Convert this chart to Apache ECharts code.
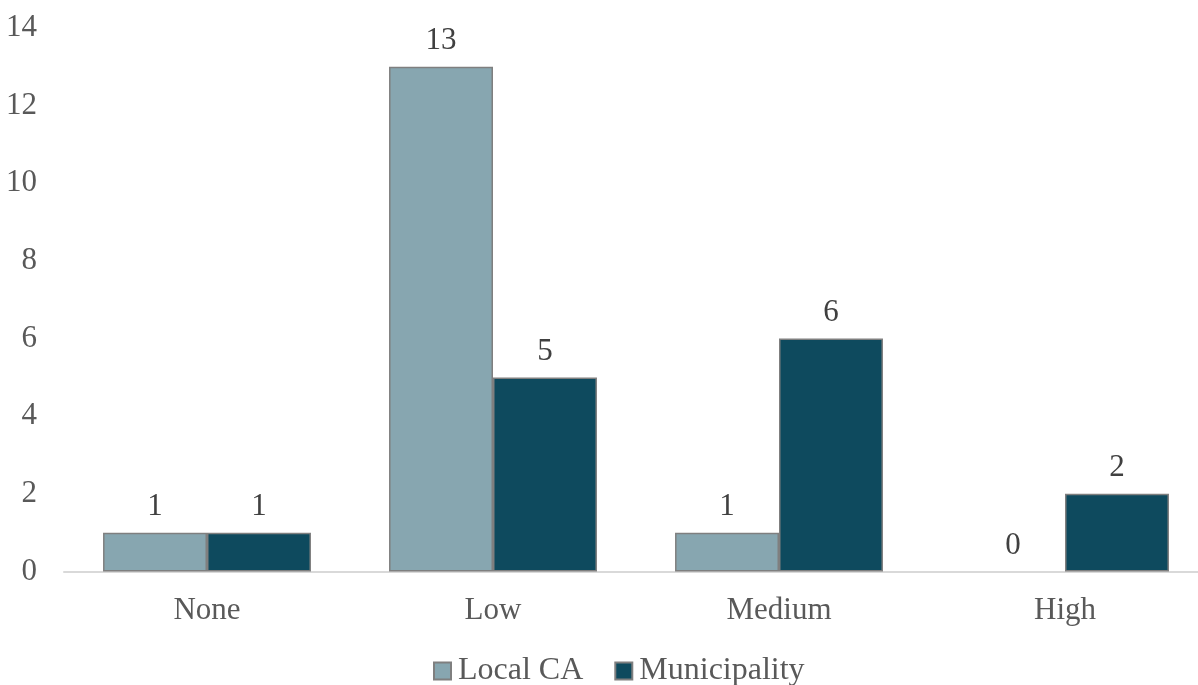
<!DOCTYPE html>
<html><head><meta charset="utf-8">
<script src="https://cdn.jsdelivr.net/npm/echarts@6/dist/echarts.min.js"></script>
<style>html,body{margin:0;padding:0;background:#fff}#c{width:1198px;height:685px}</style>
</head><body><div id="c"></div>
<script>
const categories = ["None", "Low", "Medium", "High"];
const localCA = [1, 13, 1, 0];
const municipality = [1, 5, 6, 2];
const seriesNames = ["Local CA", "Municipality"];

const font = "'Liberation Serif', 'Times New Roman', serif";
const chart = echarts.init(document.getElementById('c'));
const labelStyle = {show: true, position: 'top', distance: 10, fontFamily: font, fontSize: 31, color: '#404040'};
const toData = arr => arr.map(v => v === 0 ? {value: v, itemStyle: {borderWidth: 0}} : v);
chart.setOption({
  animation: false,
  textStyle: {fontFamily: font},
  grid: {left: 64, width: 1144, top: 28, bottom: 113.5, containLabel: false, outerBoundsMode: 'none'},
  legend: {
    data: seriesNames, bottom: -7, left: 428, itemWidth: 17, itemHeight: 17, itemGap: 31,
    icon: 'rect',
    textStyle: {fontFamily: font, fontSize: 32, color: '#595959', padding: [0, 0, 0, 2]}
  },
  xAxis: {
    type: 'category', data: categories,
    axisLine: {lineStyle: {color: '#d9d9d9', width: 2}},
    axisTick: {show: false},
    axisLabel: {fontFamily: font, fontSize: 31, color: '#595959', margin: 24}
  },
  yAxis: {
    type: 'value', min: 0, max: 14, interval: 2,
    axisLine: {show: false}, axisTick: {show: false},
    splitLine: {show: false},
    axisLabel: {fontFamily: font, fontSize: 31, color: '#595959', margin: 27}
  },
  series: [
    {name: seriesNames[0], type: 'bar', data: toData(localCA), barGap: '0%', barCategoryGap: '27.3%',
     itemStyle: {color: '#87A6B0', borderColor: '#7f7f7f', borderWidth: 1.5}, label: labelStyle},
    {name: seriesNames[1], type: 'bar', data: toData(municipality),
     itemStyle: {color: '#0E4A5E', borderColor: '#7f7f7f', borderWidth: 1.5}, label: labelStyle}
  ]
});
</script></body></html>
